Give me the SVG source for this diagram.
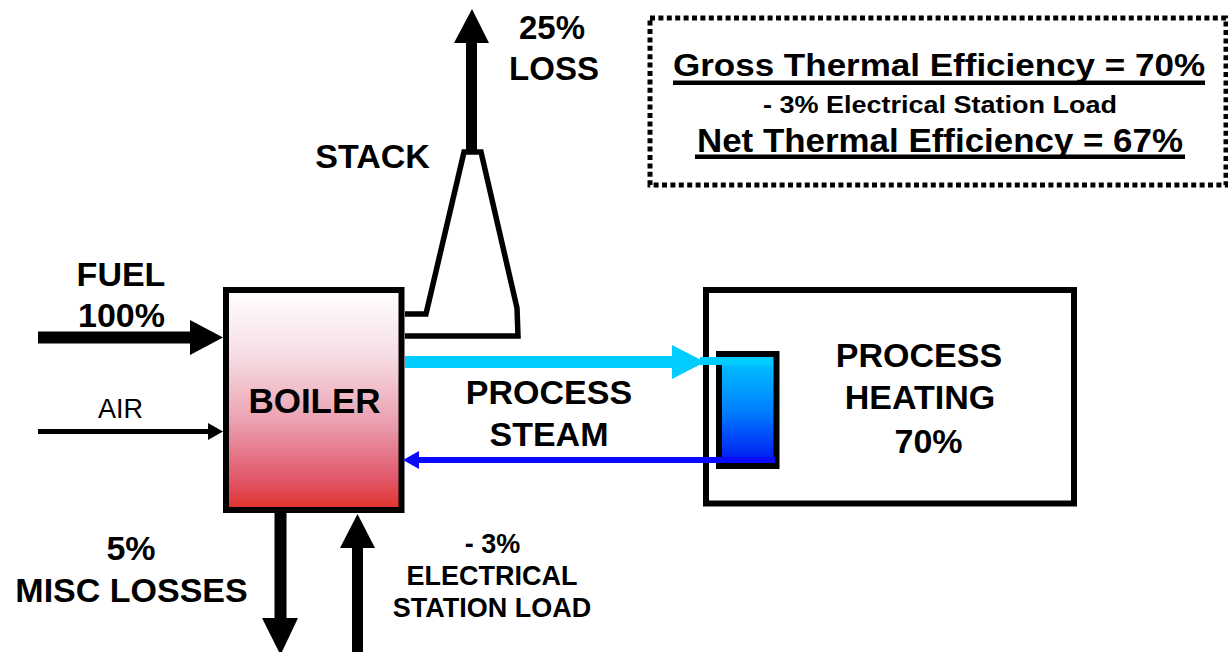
<svg xmlns="http://www.w3.org/2000/svg" width="1228" height="652" viewBox="0 0 1228 652">
  <defs>
    <linearGradient id="boilerGrad" x1="0" y1="0" x2="0" y2="1">
      <stop offset="0" stop-color="#ffffff"/>
      <stop offset="0.3" stop-color="#f6dde4"/>
      <stop offset="0.6" stop-color="#eba0b0"/>
      <stop offset="0.85" stop-color="#e05a6c"/>
      <stop offset="1" stop-color="#e0302a"/>
    </linearGradient>
    <linearGradient id="coilGrad" x1="0" y1="0" x2="0" y2="1">
      <stop offset="0" stop-color="#00ccff"/>
      <stop offset="0.5" stop-color="#0080ff"/>
      <stop offset="1" stop-color="#0010f0"/>
    </linearGradient>
    <style>
      .lbl { font-family: "Liberation Sans", Arial, sans-serif; font-weight: bold; fill: #000; text-anchor: middle; }
      .reg { font-family: "Liberation Sans", Arial, sans-serif; font-weight: normal; fill: #000; text-anchor: middle; }
      .box { fill: #fff; stroke: #000; stroke-width: 6; }
      .shaft { stroke: #000; fill: none; }
      .head { fill: #000; stroke: none; }
    </style>
  </defs>
  <rect width="1228" height="652" fill="#fff"/>

  <!-- Efficiency summary box -->
  <g id="node-efficiency">
    <rect x="650" y="18" width="576" height="167" fill="none" stroke="#000" stroke-width="5" stroke-dasharray="5 3.4"/>
    <text class="lbl" x="939" y="76" font-size="32" textLength="532" lengthAdjust="spacingAndGlyphs">Gross Thermal Efficiency = 70%</text>
    <rect x="673" y="80.5" width="532" height="4.5" fill="#000"/>
    <text class="lbl" x="940" y="112.5" font-size="23" textLength="354" lengthAdjust="spacingAndGlyphs">- 3% Electrical Station Load</text>
    <text class="lbl" x="940" y="152" font-size="33" textLength="486" lengthAdjust="spacingAndGlyphs">Net Thermal Efficiency = 67%</text>
    <rect x="695" y="154.5" width="490" height="4.5" fill="#000"/>
  </g>

  <!-- Process heating -->
  <g id="node-process-heating">
    <rect class="box" x="706" y="290" width="368" height="213.5"/>
    <rect x="719" y="354" width="57.5" height="112" fill="url(#coilGrad)" stroke="#000" stroke-width="6"/>
    <text class="lbl" x="919" y="367" font-size="34">PROCESS</text>
    <text class="lbl" x="920" y="409" font-size="34">HEATING</text>
    <text class="lbl" x="928.5" y="453" font-size="34">70%</text>
  </g>

  <!-- Stack -->
  <g id="node-stack">
    <polyline points="405,314 426,314 464,152 481,152 517,308 518,336 405,336" fill="#fff" stroke="#000" stroke-width="5.5" stroke-linejoin="miter"/>
    <text class="lbl" x="372.5" y="168" font-size="34">STACK</text>
  </g>

  <!-- Boiler -->
  <g id="node-boiler">
    <rect x="226" y="290" width="175.5" height="220" fill="url(#boilerGrad)" stroke="#000" stroke-width="6"/>
    <text class="lbl" x="314.5" y="413" font-size="35">BOILER</text>
  </g>

  <!-- Connectors -->
  <g id="connectors">
    <!-- stack loss up -->
    <line class="shaft" x1="471.5" y1="152" x2="471.5" y2="42" stroke-width="11"/>
    <polygon class="head" points="454,43 472,9 489,43"/>
    <!-- fuel in -->
    <line class="shaft" x1="38" y1="337.5" x2="192" y2="337.5" stroke-width="12"/>
    <polygon class="head" points="190,320 223,337.5 190,355"/>
    <!-- air in -->
    <line class="shaft" x1="38" y1="431.5" x2="210" y2="431.5" stroke-width="5"/>
    <polygon class="head" points="208,423 223,431.5 208,440"/>
    <!-- misc losses down -->
    <line class="shaft" x1="280.5" y1="513" x2="280.5" y2="620" stroke-width="12"/>
    <polygon class="head" points="262,618 298,618 280.5,655"/>
    <!-- electrical station load up -->
    <line class="shaft" x1="357.5" y1="652" x2="357.5" y2="546" stroke-width="11"/>
    <polygon class="head" points="340,548 375,548 357.5,514"/>
    <!-- process steam out -->
    <line x1="405" y1="362" x2="676" y2="362" stroke="#00ccff" stroke-width="12"/>
    <polygon points="672,345 705,362 672,379" fill="#00ccff"/>
    <line x1="700" y1="361" x2="773" y2="361" stroke="#00ccff" stroke-width="8"/>
    <!-- condensate return -->
    <line x1="775" y1="460" x2="416" y2="460" stroke="#0a0aff" stroke-width="6"/>
    <polygon points="403,460 419,451 419,469" fill="#0a0aff"/>
  </g>

  <!-- Flow labels -->
  <g id="labels">
    <text class="lbl" x="552" y="39" font-size="33">25%</text>
    <text class="lbl" x="554" y="80" font-size="33">LOSS</text>
    <text class="lbl" x="121" y="286" font-size="34">FUEL</text>
    <text class="lbl" x="121.5" y="327" font-size="34">100%</text>
    <text class="reg" x="120.5" y="418" font-size="27">AIR</text>
    <text class="lbl" x="131" y="560" font-size="34">5%</text>
    <text class="lbl" x="131.5" y="602" font-size="34">MISC LOSSES</text>
    <text class="lbl" x="549" y="404" font-size="34">PROCESS</text>
    <text class="lbl" x="549" y="446" font-size="34">STEAM</text>
    <text class="lbl" x="492.5" y="553" font-size="27">- 3%</text>
    <text class="lbl" x="492" y="585" font-size="27">ELECTRICAL</text>
    <text class="lbl" x="492" y="617" font-size="27">STATION LOAD</text>
  </g>
</svg>
